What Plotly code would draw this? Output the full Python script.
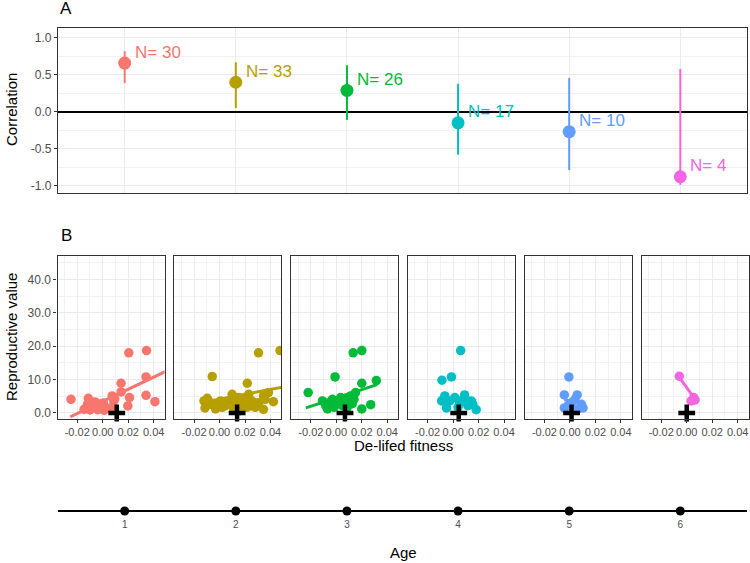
import plotly.graph_objects as go

# ---- panel A: correlation per age class ----
ages = [1, 2, 3, 4, 5, 6]
colors = ['#F8766D', '#B79F00', '#00BA38', '#00BFC4', '#619CFF', '#F564E3']
corr = [0.66, 0.40, 0.29, -0.15, -0.27, -0.88]
corr_lo = [0.39, 0.05, -0.11, -0.58, -0.79, -0.99]
corr_hi = [0.82, 0.67, 0.63, 0.38, 0.46, 0.58]
n_obs = [30, 33, 26, 17, 10, 4]

# ---- panel B: de-lifed fitness vs reproductive value, one facet per age ----
age1_fit = [-0.0249, -0.0113, 0.0205, 0.0344, 0.0144, 0.0340, 0.0144, 0.0074, 0.0210, 0.0340,
            0.0410, 0.0197, 0.0087, -0.0070, -0.0030, -0.0095, -0.0005, -0.0146, -0.0120, -0.0050,
            0.0020, -0.0085, 0.0005, -0.0100, 0.0060, -0.0040, 0.0095, -0.0060, 0.0010, -0.0025]
age1_rv = [4.1, 4.4, 18.0, 18.7, 8.9, 10.8, 6.3, 5.1, 4.6, 5.3,
           3.4, 2.1, 3.6, 3.1, 1.7, 1.4, 2.4, 1.1, 2.6, 2.2,
           1.2, 2.0, 3.0, 0.9, 1.5, 1.0, 4.2, 3.3, 0.8, 2.7]

age2_fit = [0.0306, 0.0475, -0.0057, 0.0218, 0.0099, -0.0096, -0.0122, -0.0114, 0.0229, 0.0345,
            0.0423, 0.0345, 0.0203, 0.0190, 0.0021, -0.0031, 0.0125, 0.0047, 0.0255, 0.0306,
            0.0151, -0.0070, -0.0018, 0.0073, 0.0281, 0.0216, 0.0164, 0.0358, 0.0384, 0.0112,
            -0.0083, 0.0008, 0.0242]
age2_rv = [18.0, 18.7, 10.9, 8.9, 5.6, 4.4, 3.6, 1.5, 5.6, 5.1,
           3.4, 1.1, 4.1, 2.6, 1.7, 1.2, 3.1, 2.2, 3.6, 3.1,
           4.6, 2.6, 2.8, 3.6, 1.7, 1.7, 0.7, 4.1, 6.1, 1.2,
           3.4, 3.6, 2.2]

age3_fit = [0.0132, 0.0200, -0.0010, -0.0221, 0.0200, 0.0314, 0.0270, 0.0200, -0.0070, -0.0031,
            0.0021, 0.0073, 0.0112, 0.0138, 0.0047, -0.0005, -0.0057, 0.0086, 0.0125, -0.0083,
            0.0034, 0.0151, -0.0018, 0.0060, -0.0109, 0.0099]
age3_rv = [18.0, 18.7, 10.8, 6.1, 8.9, 9.7, 2.5, 1.2, 1.2, 4.1,
           3.6, 4.4, 5.1, 4.1, 2.2, 2.6, 3.1, 1.7, 2.8, 2.2,
           4.6, 6.1, 1.7, 3.1, 3.6, 3.6]

age4_fit = [0.0059, -0.0013, -0.0088, -0.0077, 0.0090, 0.0142, 0.0181, -0.0052, -0.0065, -0.0026,
            0.0013, 0.0052, 0.0116, 0.0077, -0.0090, 0.0039, 0.0155]
age4_rv = [18.7, 10.8, 9.8, 4.1, 5.4, 3.6, 1.0, 1.5, 5.1, 3.6,
           4.6, 3.1, 2.2, 4.1, 3.6, 1.7, 2.6]

age5_fit = [-0.0008, -0.0044, 0.0057, -0.0044, 0.0013, 0.0090, 0.0103, 0.0039, 0.0064, -0.0013]
age5_rv = [10.8, 5.4, 5.4, 1.5, 3.1, 2.6, 1.5, 4.1, 1.2, 2.2]

age6_fit = [-0.0058, 0.0055, 0.0035, 0.0065]
age6_rv = [11.0, 4.6, 3.6, 3.9]

# linear fits drawn in each facet
fit_intercept = [3.45, 4.17, 4.5, 4.3, 3.6, 7.6]
fit_slope = [182, 72, 125, -30, -80, -534]
fit_lo = [-0.0255, -0.0148, -0.0239, -0.0090, -0.0044, -0.0058]
fit_hi = [0.0600, 0.0600, 0.0320, 0.0181, 0.0103, 0.0065]

# black cross: mean de-lifed fitness per age
mean_fit = [0.0110, 0.0138, 0.0068, 0.0044, 0.0013, 0.0000]

fac_x = [age1_fit, age2_fit, age3_fit, age4_fit, age5_fit, age6_fit]
fac_y = [age1_rv, age2_rv, age3_rv, age4_rv, age5_rv, age6_rv]

W, H = 750, 563
FONT = 'Liberation Sans, Arial, sans-serif'
GRID = '#EBEBEB'
BORDER = '#333333'
TICKC = '#4D4D4D'


def xd(a, b):
    return [a / W, b / W]


def yd(top, bottom):
    return [1 - bottom / H, 1 - top / H]


fig = go.Figure()

# Panel A
for i, a in enumerate(ages):
    fig.add_trace(go.Scatter(
        x=[a], y=[corr[i]], mode='markers',
        marker=dict(color=colors[i], size=13),
        error_y=dict(type='data', symmetric=False,
                     array=[corr_hi[i] - corr[i]], arrayminus=[corr[i] - corr_lo[i]],
                     color=colors[i], thickness=2, width=0),
        xaxis='x', yaxis='y', showlegend=False))

annotations = []
for i, a in enumerate(ages):
    annotations.append(dict(x=a, y=corr[i], xref='x', yref='y', text='N= %d' % n_obs[i],
                            showarrow=False, xanchor='left', yanchor='middle',
                            xshift=8, yshift=11, font=dict(size=17, color=colors[i], family=FONT)))

# Panel B facets
for i in range(6):
    k = str(i + 2)
    xs = [fit_lo[i], fit_hi[i]]
    fig.add_trace(go.Scatter(
        x=xs, y=[fit_intercept[i] + fit_slope[i] * v for v in xs], mode='lines',
        line=dict(color=colors[i], width=3), xaxis='x' + k, yaxis='y' + k, showlegend=False))
    fig.add_trace(go.Scatter(
        x=fac_x[i], y=fac_y[i], mode='markers',
        marker=dict(color=colors[i], size=9.5),
        xaxis='x' + k, yaxis='y' + k, showlegend=False))
    fig.add_trace(go.Scatter(
        x=[mean_fit[i]], y=[0], mode='markers',
        marker=dict(symbol='cross-thin', size=12, line=dict(color='black', width=4.5)),
        xaxis='x' + k, yaxis='y' + k, showlegend=False, cliponaxis=False))

# Age number line
fig.add_trace(go.Scatter(x=ages, y=[0 for _ in ages], mode='markers',
                         marker=dict(color='black', size=9),
                         xaxis='x8', yaxis='y8', showlegend=False, cliponaxis=False))

layout = dict(
    width=W, height=H, margin=dict(l=0, r=0, t=0, b=0),
    paper_bgcolor='white', plot_bgcolor='white',
    font=dict(family=FONT, color=TICKC),
    xaxis=dict(domain=xd(58, 747), anchor='y', range=[0.4, 6.6], tickvals=ages,
               showticklabels=False, ticks='', showgrid=True, gridcolor=GRID, gridwidth=1.2,
               zeroline=False, showline=True, mirror=True, linecolor=BORDER, linewidth=1.3),
    yaxis=dict(domain=yd(28, 193), anchor='x', range=[-1.1, 1.135],
               tickvals=[-1, -0.5, 0, 0.5, 1], ticktext=['-1.0', '-0.5', '0.0', '0.5', '1.0'],
               ticks='outside', ticklen=3, tickcolor=BORDER, tickfont=dict(size=12, color=TICKC),
               showgrid=True, gridcolor=GRID, gridwidth=1.2,
               minor=dict(tickvals=[-0.75, -0.25, 0.25, 0.75], showgrid=True, gridcolor='#F2F2F2', gridwidth=0.8),
               zeroline=True, zerolinecolor='black', zerolinewidth=1.5,
               showline=True, mirror=True, linecolor=BORDER, linewidth=1.3),
)

fac_left = [57.5, 174.3, 291.1, 407.9, 524.7, 641.5]
for i in range(6):
    k = str(i + 2)
    layout['xaxis' + k] = dict(
        domain=xd(fac_left[i], fac_left[i] + 107), anchor='y' + k, range=[-0.0355, 0.0485],
        tickvals=[-0.02, 0, 0.02, 0.04], ticktext=['-0.02', '0.00', '0.02', '0.04'],
        ticks='outside', ticklen=3, tickcolor=BORDER, tickfont=dict(size=11, color=TICKC),
        showgrid=True, gridcolor=GRID, gridwidth=1.2,
        minor=dict(tickvals=[-0.03, -0.01, 0.01, 0.03], showgrid=True, gridcolor='#F2F2F2', gridwidth=0.8),
        zeroline=False, showline=True, mirror=True, linecolor=BORDER, linewidth=1.3)
    layout['yaxis' + k] = dict(
        domain=yd(256, 419), anchor='x' + k, range=[-1.8, 47],
        tickvals=[0, 10, 20, 30, 40], ticktext=['0.0', '10.0', '20.0', '30.0', '40.0'],
        showticklabels=(i == 0), ticks='outside' if i == 0 else '', ticklen=3, tickcolor=BORDER,
        tickfont=dict(size=12, color=TICKC),
        showgrid=True, gridcolor=GRID, gridwidth=1.2,
        minor=dict(tickvals=[5, 15, 25, 35, 45], showgrid=True, gridcolor='#F2F2F2', gridwidth=0.8),
        zeroline=False, showline=True, mirror=True, linecolor=BORDER, linewidth=1.3)

layout['xaxis8'] = dict(domain=xd(58, 747), anchor='y8', range=[0.4, 6.6], tickvals=ages,
                        ticks='', showgrid=False, zeroline=False, showline=False,
                        tickfont=dict(size=10, color=TICKC))
layout['yaxis8'] = dict(domain=yd(505, 517), anchor='x8', range=[-1, 1], showticklabels=False,
                        ticks='', showgrid=False, showline=False,
                        zeroline=True, zerolinecolor='black', zerolinewidth=2)

title_font = dict(family=FONT, size=15, color='black')
annotations += [
    dict(text='A', x=58 / W, y=1 - 8 / H, xref='paper', yref='paper', xanchor='left', yanchor='middle',
         showarrow=False, font=dict(family=FONT, size=17, color='black')),
    dict(text='B', x=59 / W, y=1 - 235 / H, xref='paper', yref='paper', xanchor='left', yanchor='middle',
         showarrow=False, font=dict(family=FONT, size=17, color='black')),
    dict(text='Correlation', x=12 / W, y=1 - 110 / H, xref='paper', yref='paper', textangle=-90,
         xanchor='center', yanchor='middle', showarrow=False, font=title_font),
    dict(text='Reproductive value', x=11 / W, y=1 - 337 / H, xref='paper', yref='paper', textangle=-90,
         xanchor='center', yanchor='middle', showarrow=False, font=title_font),
    dict(text='De-lifed fitness', x=403 / W, y=1 - 445 / H, xref='paper', yref='paper',
         xanchor='center', yanchor='middle', showarrow=False, font=title_font),
    dict(text='Age', x=403 / W, y=1 - 552 / H, xref='paper', yref='paper',
         xanchor='center', yanchor='middle', showarrow=False, font=title_font),
]
layout['annotations'] = annotations

fig.update_layout(**layout)
# drop the page's default body margin so the 750x563 figure sits at the window origin
fig.write_html('out.html', config={'displayModeBar': False},
               post_script="document.body.style.margin='0';")
